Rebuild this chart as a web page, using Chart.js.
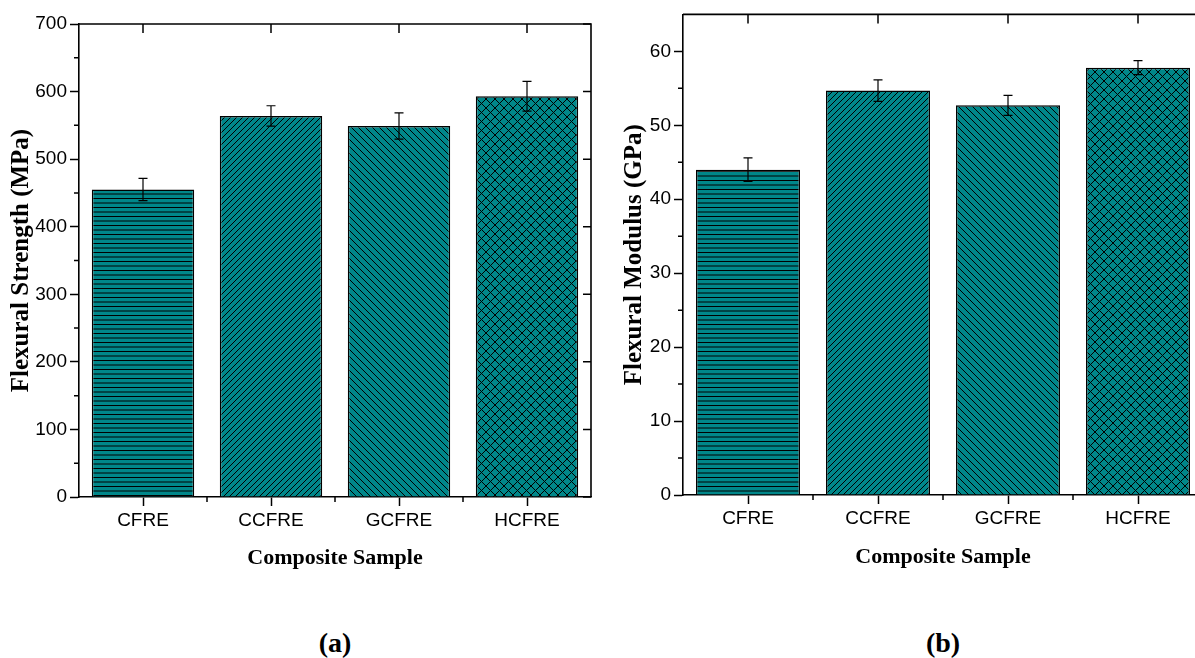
<!DOCTYPE html>
<html>
<head>
<meta charset="utf-8">
<title>Flexural properties</title>
<script src="https://cdn.jsdelivr.net/npm/chart.js@4.4.1/dist/chart.umd.min.js"></script>
<style>
  html, body { margin: 0; padding: 0; background: #fff; overflow: hidden; width: 1195px; height: 658px; }
  #strengthChart { position: absolute; left: 0; top: 0; }
  #modulusChart { position: absolute; left: 600px; top: 0; }
  .tag { position: absolute; top: 627px; width: 100px; text-align: center; font: bold 28px 'Liberation Serif', serif; color: #000; }
</style>
</head>
<body>
<canvas id="strengthChart" width="600" height="600"></canvas>
<canvas id="modulusChart" width="615" height="600"></canvas>
<div class="tag" style="left:285px">(a)</div>
<div class="tag" style="left:893px">(b)</div>

<script>
// Flexural test results per composite
const samples = ['CFRE', 'CCFRE', 'GCFRE', 'HCFRE'];
const strength = [455, 564, 549, 593];       // MPa
const strengthErr = [16.5, 15, 19.5, 22];
const modulus = [44.0, 54.7, 52.7, 57.8];    // GPa
const modulusErr = [1.6, 1.45, 1.35, 0.95];

const strengthTicks = [0, 100, 200, 300, 400, 500, 600, 700];
const modulusTicks = [0, 10, 20, 30, 40, 50, 60];

const TEAL = '#00878a';
const SANS = "'Liberation Sans', Arial, sans-serif";
const SERIF = "'Liberation Serif', 'Times New Roman', serif";

// Hatch fills: horizontal, forward diagonal, back diagonal, cross
function hatch(kind, size) {
  const c = document.createElement('canvas');
  c.width = size; c.height = size;
  const g = c.getContext('2d');
  g.fillStyle = TEAL;
  g.fillRect(0, 0, size, size);
  g.strokeStyle = '#000';
  g.lineWidth = 1;
  g.beginPath();
  if (kind === 'horiz') {
    g.moveTo(0, 0.5); g.lineTo(size, 0.5);
    g.moveTo(0, size / 2 + 0.5); g.lineTo(size, size / 2 + 0.5);
  }
  if (kind === 'fwd' || kind === 'cross') {
    for (let k = -1; k <= 1; k++) { g.moveTo(k * size, size); g.lineTo(k * size + size, 0); }
  }
  if (kind === 'back' || kind === 'cross') {
    for (let k = -1; k <= 1; k++) { g.moveTo(k * size, 0); g.lineTo(k * size + size, size); }
  }
  g.stroke();
  return g.createPattern(c, 'repeat');
}

const fills = [hatch('horiz', 9), hatch('fwd', 6), hatch('back', 7), hatch('cross', 9)];

// Error bars drawn from the value arrays through the y scale
const errorBars = {
  id: 'errorBars',
  afterDatasetsDraw(chart, args, opts) {
    const { ctx, scales: { y } } = chart;
    const meta = chart.getDatasetMeta(0);
    const vals = chart.data.datasets[0].data;
    ctx.save();
    ctx.strokeStyle = '#000';
    ctx.lineWidth = 1.2;
    ctx.beginPath();
    meta.data.forEach((bar, i) => {
      const top = y.getPixelForValue(vals[i] + opts.errors[i]);
      const bot = y.getPixelForValue(vals[i] - opts.errors[i]);
      ctx.moveTo(bar.x, top); ctx.lineTo(bar.x, bot);
      ctx.moveTo(bar.x - 4.5, top); ctx.lineTo(bar.x + 4.5, top);
      ctx.moveTo(bar.x - 4.5, bot); ctx.lineTo(bar.x + 4.5, bot);
    });
    ctx.stroke();
    ctx.restore();
  }
};

// Closed frame with inward ticks on top/right, plus minor ticks on the axes
const frame = {
  id: 'frame',
  afterDraw(chart, args, opts) {
    const { ctx, chartArea: a, scales: { x, y } } = chart;
    ctx.save();
    ctx.strokeStyle = '#000';
    ctx.lineWidth = 1.6;
    ctx.beginPath();
    ctx.moveTo(a.left, a.top); ctx.lineTo(a.right, a.top); ctx.lineTo(a.right, a.bottom);
    ctx.stroke();
    ctx.lineWidth = 1.5;
    ctx.beginPath();
    x.ticks.forEach((t, i) => {
      const px = x.getPixelForTick(i);
      ctx.moveTo(px, a.top); ctx.lineTo(px, a.top + 9);
    });
    y.ticks.forEach(t => {
      const py = y.getPixelForValue(t.value);
      ctx.moveTo(a.right, py); ctx.lineTo(a.right - 8, py);
    });
    for (let v = opts.minorStep; v < y.max; v += 2 * opts.minorStep) {
      const py = y.getPixelForValue(v);
      ctx.moveTo(a.left, py); ctx.lineTo(a.left - 5, py);
    }
    for (let i = 0; i < samples.length - 1; i++) {
      const px = (x.getPixelForValue(i) + x.getPixelForValue(i + 1)) / 2;
      ctx.moveTo(px, a.bottom); ctx.lineTo(px, a.bottom + 5);
    }
    ctx.stroke();
    ctx.restore();
  }
};

function barChart(el, values, errors, yTicks, yMax, yTitle, minorStep, box) {
  return new Chart(el, {
    type: 'bar',
    data: {
      labels: samples,
      datasets: [{
        data: values,
        backgroundColor: fills,
        borderColor: '#000',
        borderWidth: 1.5,
        barPercentage: 0.8,
        categoryPercentage: 1.0
      }]
    },
    plugins: [errorBars, frame],
    options: {
      responsive: false,
      animation: false,
      layout: { padding: { left: 0, top: box.top, right: box.right, bottom: 0 } },
      plugins: {
        legend: { display: false },
        tooltip: { enabled: false },
        errorBars: { errors: errors },
        frame: { minorStep: minorStep }
      },
      scales: {
        x: {
          afterFit: s => { s.height = box.xHeight; },
          border: { display: true, color: '#000', width: 1.6 },
          grid: { drawOnChartArea: false, offset: false, tickLength: 9, tickColor: '#000', tickWidth: 1.5 },
          ticks: { color: '#000', padding: 3, font: { family: SANS, size: 19 } },
          title: {
            display: true, text: 'Composite Sample', color: '#000',
            font: { family: SERIF, size: 22, weight: 'bold' },
            padding: { top: 0, bottom: box.xTitlePad }
          }
        },
        y: {
          min: 0,
          max: yMax,
          afterBuildTicks: s => { s.ticks = yTicks.map(v => ({ value: v })); },
          afterFit: s => { s.width = box.yWidth; },
          border: { display: true, color: '#000', width: 1.6 },
          grid: { drawOnChartArea: false, tickLength: 9, tickColor: '#000', tickWidth: 1.5 },
          ticks: { color: '#000', padding: 3, font: { family: SANS, size: 19 } },
          title: {
            display: true, text: yTitle, color: '#000',
            font: { family: SERIF, size: 25, weight: 'bold' },
            padding: { top: box.yTitlePad, bottom: 0 }
          }
        }
      }
    }
  });
}

barChart(document.getElementById('strengthChart'), strength, strengthErr, strengthTicks, 700,
  'Flexural Strength (MPa)', 50,
  { top: 24, right: 9, xHeight: 103, yWidth: 79, xTitlePad: 28, yTitlePad: 7 });

barChart(document.getElementById('modulusChart'), modulus, modulusErr, modulusTicks, 65,
  'Flexural Modulus (GPa)', 5,
  { top: 11, right: 12, xHeight: 105, yWidth: 83, xTitlePad: 29, yTitlePad: 20 });
</script>
</body>
</html>
